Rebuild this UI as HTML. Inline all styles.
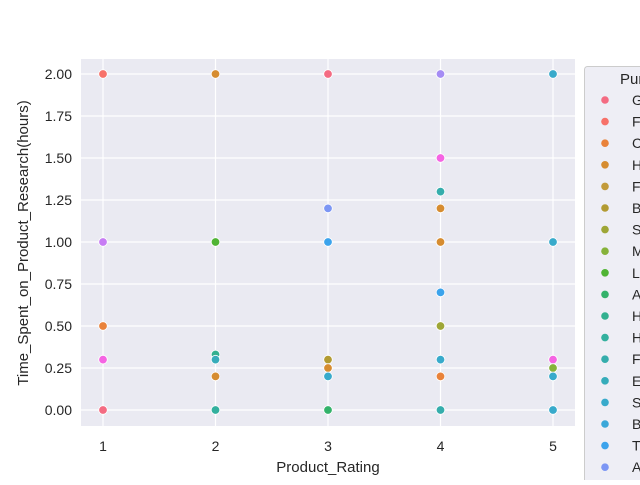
<!DOCTYPE html>
<html><head><meta charset="utf-8"><style>
body{margin:0;background:#fff;width:640px;height:480px;overflow:hidden;font-family:"Liberation Sans",sans-serif}
svg text{font-family:"Liberation Sans",sans-serif;fill:#262626}
</style></head><body>
<svg id="chart" width="640" height="480"></svg>
<script>
const xTicks=[1,2,3,4,5];
const yTicks=[0,0.25,0.5,0.75,1.0,1.25,1.5,1.75,2.0];
const legendLabels=["G","F","C","H","F","B","S","M","L","A","H","H","F","E","S","B","T","A"];
const legendColors=["#f46b82","#f77169","#e9823a","#d68c30","#c29a3a","#b29b32","#9ea636","#86b23a","#50b434","#33b26a","#32b08f","#33b09e","#35adac","#36acba","#38aacb","#3aa7d9","#3ba3ec","#7c96f4"];
const ptX=[1,1,1,1,1, 2,2,2,2,2,2, 3,3,3,3,3,3,3, 4,4,4,4,4,4,4,4,4,4, 5,5,5,5,5,5];
const ptY=[2.0,1.0,0.5,0.3,0.0, 2.0,1.0,0.33,0.3,0.2,0.0, 2.0,1.2,1.0,0.3,0.25,0.2,0.0, 2.0,1.5,1.3,1.2,1.0,0.7,0.5,0.3,0.2,0.0, 2.0,1.0,0.3,0.25,0.2,0.0];
const ptC=["#f77169","#c77cf4","#e9823a","#f564e3","#f46b82","#d68c30","#50b434","#32b08f","#36acba","#d68c30","#33b09e","#f46b82","#7c96f4","#3ba3ec","#b29b32","#d68c30","#38aacb","#33b26a","#a58cf4","#f564e3","#35adac","#d68c30","#d68c30","#3ba3ec","#9ea636","#38aacb","#e9823a","#35adac","#38aacb","#38aacb","#f564e3","#86b23a","#38aacb","#38aacb"];
const NS="http://www.w3.org/2000/svg";
const svg=document.getElementById('chart');
const L=81,R=575,T=59,B=426;
const xs=v=>103+(v-1)*112.5;
const ys=v=>410-v*168;
function el(t,a,p){const e=document.createElementNS(NS,t);for(const k in a)e.setAttribute(k,a[k]);(p||svg).appendChild(e);return e;}
const bg=el('rect',{x:L,y:T,width:R-L,height:B-T,fill:'#eaeaf2'});


xTicks.forEach(v=>{
 el('line',{x1:xs(v),x2:xs(v),y1:T,y2:B,stroke:'#fff','stroke-width':1.2});
 const t=el('text',{x:xs(v),y:451,'font-size':14,'text-anchor':'middle'});t.textContent=v;
 
 
});
yTicks.forEach(v=>{
 el('line',{x1:L,x2:R,y1:ys(v),y2:ys(v),stroke:'#fff','stroke-width':1.2});
 const t=el('text',{x:72,y:ys(v)+5,'font-size':14,'text-anchor':'end'});t.textContent=v.toFixed(2);
 
 
});
ptX.forEach((x,i)=>{
 const c=el('circle',{cx:xs(x),cy:ys(ptY[i]),r:4.3,fill:ptC[i],stroke:'#fff','stroke-width':0.8});
 
 
});
const xl=el('text',{x:328,y:472,'font-size':15,'text-anchor':'middle'});xl.textContent='Product_Rating';


const yl=el('text',{x:0,y:0,'font-size':15,'text-anchor':'middle',transform:'translate(28,243) rotate(-90)'});yl.textContent='Time_Spent_on_Product_Research(hours)';


const lg=el('g',{});


el('rect',{x:584.5,y:66.5,width:80,height:430,rx:3,fill:'#eaeaf2','fill-opacity':0.8,stroke:'#cccccc'},lg);
const lt=el('text',{x:620,y:84,'font-size':15},lg);lt.textContent='Purchase';


legendLabels.forEach((s,i)=>{
 const y=100+i*21.6;
 const g=el('g',{},lg);
 
 
 el('circle',{cx:605,cy:y,r:3.8,fill:legendColors[i]},g);
 const t=el('text',{x:632,y:y+5,'font-size':14},g);t.textContent=s;
});
</script>
</body></html>
